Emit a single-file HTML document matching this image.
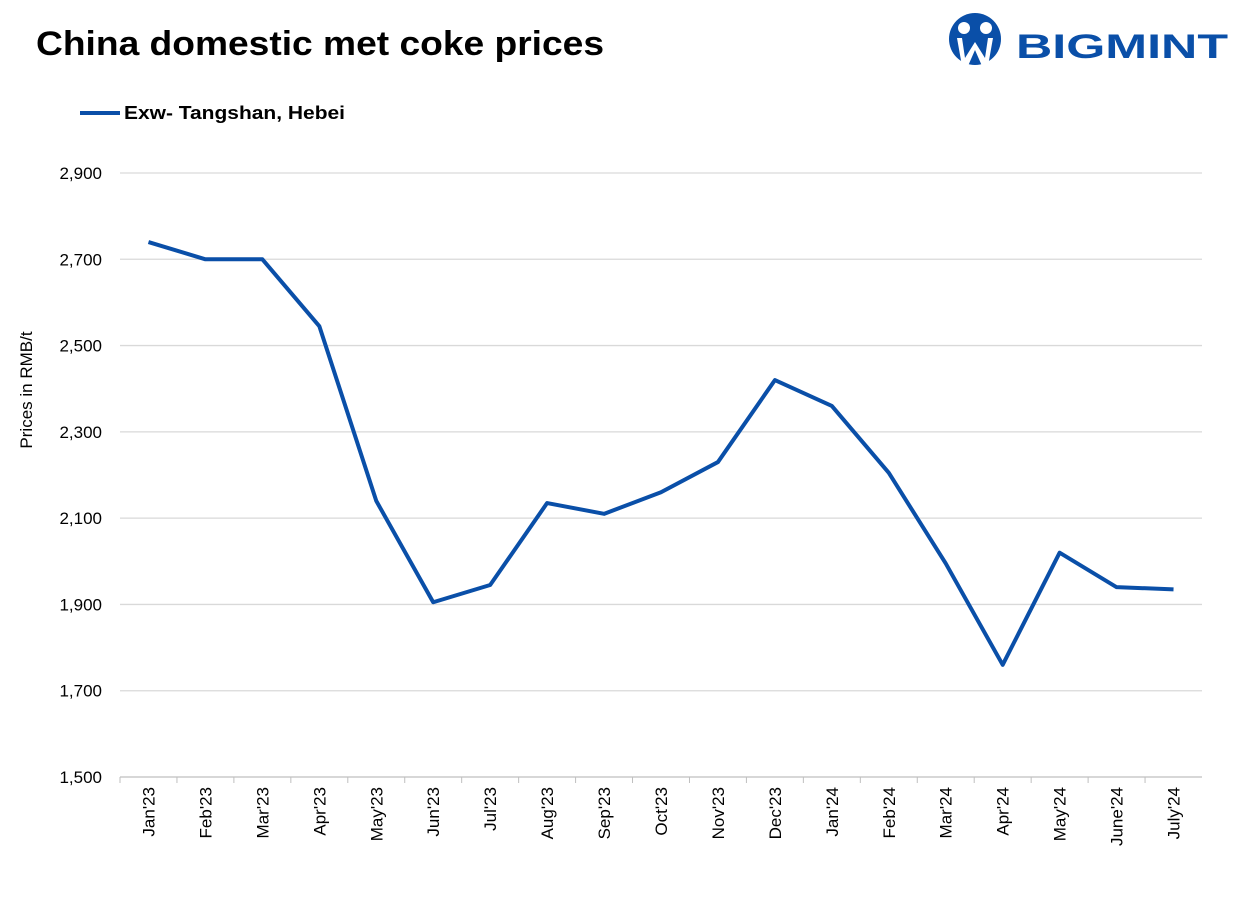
<!DOCTYPE html>
<html><head><meta charset="utf-8"><style>
body{margin:0;background:#fff;font-family:"Liberation Sans",sans-serif;}
#wrap{position:relative;width:1251px;height:905px;overflow:hidden;}
</style></head><body>
<div id="wrap">
<svg id="svg" width="1251" height="905" xmlns="http://www.w3.org/2000/svg">
<text x="36" y="55" font-size="34" font-weight="bold" fill="#000" textLength="568" lengthAdjust="spacingAndGlyphs">China domestic met coke prices</text>
<g>
<circle cx="975" cy="39" r="26" fill="#0a4fa8"/>
<circle cx="964" cy="28" r="6" fill="#fff"/>
<circle cx="986" cy="28" r="6" fill="#fff"/>
<path d="M957 38 L962 66 L968 66 L975 50 L982 66 L988 66 L993 38 L988 38 L985 58 L975 42 L965 58 L962 38Z" fill="#fff"/>
<text x="1016" y="58" font-size="34" font-weight="bold" fill="#0a4fa8" textLength="212" lengthAdjust="spacingAndGlyphs">BIGMINT</text>
</g>
<line x1="80" y1="113" x2="120" y2="113" stroke="#0a4fa8" stroke-width="4"/>
<text x="124" y="119" font-size="18" font-weight="bold" fill="#000" textLength="221" lengthAdjust="spacingAndGlyphs">Exw- Tangshan, Hebei</text>
<text transform="translate(32,390) rotate(-90)" text-anchor="middle" font-size="17" fill="#000">Prices in RMB/t</text>
<g id="grid"></g><g id="xl"></g><g id="yl"></g>
<path id="line" fill="none" stroke="#0a4fa8" stroke-width="4" stroke-linejoin="round"/>
</svg></div>
<script>
const categories=["Jan'23","Feb'23","Mar'23","Apr'23","May'23","Jun'23","Jul'23","Aug'23","Sep'23","Oct'23","Nov'23","Dec'23","Jan'24","Feb'24","Mar'24","Apr'24","May'24","June'24","July'24"];
const values=[2740,2700,2700,2545,2140,1905,1945,2135,2110,2160,2230,2420,2360,2205,1995,1760,2020,1940,1935];
const yTicks=[1500,1700,1900,2100,2300,2500,2700,2900];
const ns="http://www.w3.org/2000/svg";
const L=120,R=1202,T=173,B=777,yMin=1500,yMax=2900;
const y=v=>B-(v-yMin)/(yMax-yMin)*(B-T);
const bw=(R-L)/categories.length;
const x=i=>L+bw*(i+0.5);
const grid=document.getElementById('grid'),yl=document.getElementById('yl'),xl=document.getElementById('xl');
yTicks.forEach(t=>{
 const g=document.createElementNS(ns,'line');
 g.setAttribute('x1',L);g.setAttribute('x2',R);g.setAttribute('y1',y(t));g.setAttribute('y2',y(t));
 g.setAttribute('stroke',t===yMin?'#bfbfbf':'#d9d9d9');g.setAttribute('stroke-width','1.3');
 
 
 grid.appendChild(g);
 const tx=document.createElementNS(ns,'text');
 tx.setAttribute('x',102);tx.setAttribute('y',y(t)+6);tx.setAttribute('text-anchor','end');tx.setAttribute('font-size','17');
 tx.textContent=t.toLocaleString('en-US');
 
 
 yl.appendChild(tx);
});
categories.forEach((c,i)=>{
 const tk=document.createElementNS(ns,'line');
 tk.setAttribute('x1',L+bw*i);tk.setAttribute('x2',L+bw*i);tk.setAttribute('y1',B);tk.setAttribute('y2',B+6);tk.setAttribute('stroke','#bfbfbf');
 
 
 grid.appendChild(tk);
 const tx=document.createElementNS(ns,'text');
 tx.setAttribute('transform',`translate(${x(i)+6},${B+10}) rotate(-90)`);
 tx.setAttribute('text-anchor','end');tx.setAttribute('font-size','17');
 tx.textContent=c;
 
 
 xl.appendChild(tx);
});
document.getElementById('line').setAttribute('d',values.map((v,i)=>(i?'L':'M')+x(i)+' '+y(v)).join(' '));
</script>
</body></html>
